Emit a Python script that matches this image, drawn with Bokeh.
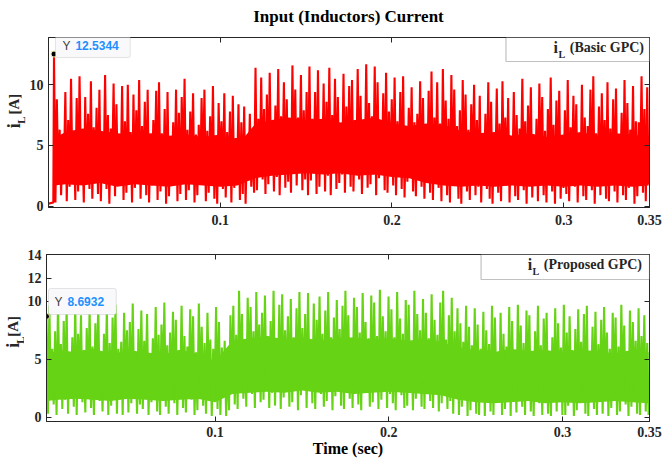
import numpy as np
from bokeh.plotting import figure
from bokeh.models import Label, Range1d, FixedTicker, LinearAxis, BoxAnnotation
from bokeh.layouts import column, row
from bokeh.embed import file_html
from bokeh.resources import INLINE

# ---------------- data ----------------
title_text = "Input (Inductors) Current"
x_label = "Time (sec)"
x_ticks = [0.1, 0.2, 0.3, 0.35]
x_tick_labels = {0.1: "0.1", 0.2: "0.2", 0.3: "0.3", 0.35: "0.35"}
top_y_ticks = [0, 5, 10]
bot_y_ticks = [0, 5, 10, 12, 14]

basic_name = "(Basic GPC)"
proposed_name = "(Proposed GPC)"

# Basic GPC inductor current: flat start, then alternating peaks / troughs
basic_start_t = [0.0, 0.0028]
basic_start_i = [0.2, 0.3]
basic_t_first, basic_t_last = 0.0032, 0.3495
basic_peaks = [
    12.53, 8.8, 6.3, 5.4, 9.4, 7.1, 10.5, 6.2, 8.9, 10.7, 5.8, 9.0, 7.6, 10.3, 6.5,
    8.1, 9.6, 5.9, 10.8, 7.5, 6.4, 10.1, 8.4, 5.6, 9.9, 7.0, 10.0, 6.1, 9.2, 7.9,
    10.4, 6.6, 8.6, 9.6, 5.7, 7.1, 9.5, 10.2, 6.0, 8.0, 9.4, 5.5, 6.9, 9.6, 7.7,
    9.0, 10.5, 6.3, 7.8, 9.3, 5.9, 6.7, 8.9, 9.6, 6.2, 7.4, 9.9, 5.8, 8.5, 7.0,
    9.3, 6.1, 7.8, 9.1, 5.6, 8.4, 6.9, 8.2, 5.3, 7.6, 5.0, 11.4, 7.2, 10.6, 8.0,
    9.2, 11.0, 6.8, 8.3, 11.3, 7.4, 10.2, 8.8, 6.6, 11.6, 9.6, 7.3, 10.8, 7.9, 9.4,
    11.5, 7.2, 9.4, 11.2, 6.9, 10.1, 8.6, 11.4, 7.5, 10.5, 9.0, 6.8, 10.9, 8.2, 9.9,
    10.4, 7.1, 11.3, 9.1, 6.7, 11.7, 8.5, 7.4, 11.5, 10.2, 6.9, 9.3, 11.0, 7.8, 8.8,
    10.6, 7.0, 9.4, 10.7, 6.5, 8.1, 9.8, 6.9, 7.6, 10.3, 8.9, 6.4, 9.5, 11.1, 7.3,
    10.2, 6.8, 11.3, 8.7, 7.2, 10.8, 9.6, 6.6, 7.9, 10.4, 9.2, 6.3, 8.4, 10.0, 7.1,
    9.1, 6.0, 7.6, 10.2, 8.6, 5.8, 9.7, 6.8, 10.3, 7.3, 8.9, 5.6, 9.4, 7.5, 6.4,
    10.5, 7.0, 8.3, 9.8, 5.9, 7.2, 10.1, 9.0, 6.2, 8.0, 10.6, 6.7, 8.7, 9.5, 5.7,
    7.9, 10.4, 6.5, 9.1, 8.4, 5.8, 10.0, 7.3, 6.6, 9.6, 10.7, 6.0, 8.2, 9.3, 7.1,
    10.2, 6.4, 8.8, 9.7, 5.9, 7.7, 10.4, 8.5, 6.3, 9.9, 7.0, 6.9, 10.7, 8.0, 9.8,
]
basic_troughs = [
    0.3, 2.1, 0.9, 3.0, 0.4, 1.6, 2.6, 0.5, 1.2, 3.2, 0.3, 2.1, 1.4, 0.6, 2.4,
    1.0, 0.4, 2.7, 1.4, 0.2, 3.1, 0.8, 1.9, 2.5, 0.5, 1.1, 2.9, 0.3, 1.5, 2.2,
    0.6, 2.8, 0.9, 0.3, 1.7, 3.0, 0.5, 1.2, 2.3, 0.2, 0.8, 2.6, 2.0, 0.4, 1.0,
    2.4, 0.5, 1.3, 3.1, 0.3, 0.9, 1.8, 2.7, 0.4, 1.1, 2.2, 0.6, 0.2, 2.9, 1.4,
    0.7, 2.5, 0.3, 1.5, 2.8, 0.5, 1.0, 0.2, 2.1, 1.6, 1.1, 1.3, 2.9, 2.2, 1.0,
    1.8, 3.0, 1.2, 2.4, 0.9, 3.4, 1.5, 2.0, 1.1, 2.7, 1.7, 3.2, 1.3, 2.2, 0.9,
    2.1, 3.3, 1.0, 1.6, 2.9, 1.2, 2.5, 0.9, 3.1, 1.4, 1.9, 2.6, 1.1, 3.0, 1.6,
    1.2, 2.8, 2.2, 1.0, 3.2, 1.5, 1.8, 2.6, 0.9, 2.3, 3.0, 1.3, 1.1, 2.7, 1.7,
    0.9, 2.4, 1.4, 0.7, 2.0, 3.0, 1.2, 0.8, 2.6, 1.6, 0.6, 2.2, 1.1, 0.5, 2.8,
    1.5, 0.4, 2.5, 0.9, 0.3, 1.8, 2.9, 0.6, 0.2, 2.2, 1.2, 0.5, 2.7, 0.9, 1.6,
    0.3, 2.4, 1.4, 0.6, 0.2, 2.9, 1.1, 0.4, 2.0, 1.7, 0.3, 2.6, 0.8, 0.5, 3.0,
    1.3, 0.2, 2.3, 0.7, 1.9, 0.4, 2.8, 0.9, 0.3, 2.5, 1.2, 0.2, 2.0, 0.6, 1.5,
    1.0, 0.4, 2.7, 1.6, 0.3, 2.2, 0.8, 0.5, 3.0, 1.3, 0.2, 1.9, 0.9, 2.6, 0.6,
    0.4, 2.3, 1.2, 0.3, 2.8, 0.9, 0.5, 1.5, 2.4, 0.2, 0.8, 2.9, 1.1, 0.4, 1.8,
]
# the solid-looking dense core of the Basic GPC trace, every 0.01 s
basic_core_t = [0.0032, 0.01, 0.02, 0.03, 0.04, 0.05, 0.06, 0.07, 0.08, 0.09,
                0.10, 0.11, 0.12, 0.13, 0.14, 0.15, 0.16, 0.17, 0.18, 0.19,
                0.20, 0.21, 0.22, 0.23, 0.24, 0.25, 0.26, 0.27, 0.28, 0.29,
                0.30, 0.31, 0.32, 0.33, 0.34, 0.3495]
basic_core_low = [1.7, 1.8, 1.7, 1.9, 1.6, 1.8, 1.7, 1.6, 1.8, 1.7,
                  1.6, 1.7, 2.3, 2.5, 2.6, 2.7, 2.6, 2.7, 2.5, 2.6,
                  2.4, 2.3, 1.9, 1.7, 1.6, 1.7, 1.6, 1.7, 1.6, 1.7,
                  1.6, 1.7, 1.6, 1.7, 1.6, 1.7]
basic_core_high = [5.6, 6.1, 6.4, 6.2, 6.0, 5.9, 6.0, 5.8, 5.9, 5.7,
                   5.9, 5.0, 6.7, 7.1, 7.3, 7.1, 7.2, 6.9, 7.1, 7.3,
                   6.8, 6.6, 6.8, 6.7, 6.2, 6.0, 6.1, 5.8, 6.0, 5.7,
                   5.9, 6.1, 5.8, 6.0, 5.9, 5.7]
basic_tip_t, basic_tip_i = 0.0032, 12.5344

# Proposed GPC inductor current: alternating peaks / troughs
proposed_t_first, proposed_t_last = 0.003, 0.3495
proposed_peaks = [
    8.69, 9.6, 5.9, 7.4, 9.9, 6.3, 8.3, 9.5, 5.6, 6.9, 9.8, 7.2, 8.8, 5.8, 7.7,
    9.4, 6.1, 8.1, 9.9, 5.5, 7.2, 9.3, 6.4, 8.6, 9.7, 5.9, 6.5, 9.0, 7.5, 8.2,
    9.8, 5.7, 7.6, 9.2, 6.6, 8.9, 5.4, 6.8, 9.5, 7.1, 8.0, 9.9, 6.2, 7.3, 9.1,
    8.4, 5.8, 9.6, 7.0, 6.1, 9.3, 8.7, 5.6, 9.8, 7.8, 6.4, 9.0, 6.7, 5.9, 9.5,
    8.2, 6.0, 6.6, 5.2, 8.8, 9.6, 7.1, 10.9, 8.9, 6.7, 10.3, 9.5, 7.4, 10.8, 8.0,
    9.0, 10.5, 7.0, 8.3, 10.9, 6.8, 9.7, 10.6, 7.5, 8.7, 10.2, 6.9, 9.4, 10.8, 7.7,
    8.9, 10.7, 6.6, 9.8, 8.4, 10.4, 7.2, 9.2, 10.8, 6.9, 8.6, 10.1, 7.6, 9.6, 10.9,
    8.8, 6.7, 10.3, 9.5, 7.3, 10.7, 8.2, 6.8, 10.5, 9.9, 7.0, 11.0, 8.7, 7.4, 10.4,
    9.3, 6.9, 10.8, 8.5, 7.2, 10.1, 9.7, 6.6, 10.9, 8.9, 7.5, 10.2, 9.0, 6.8, 10.6,
    8.4, 7.1, 9.9, 10.9, 6.7, 8.8, 10.3, 7.4, 9.4, 8.1, 6.5, 9.6, 7.8, 6.2, 9.4,
    8.0, 5.9, 9.1, 7.5, 6.3, 9.6, 8.6, 5.6, 9.0, 7.2, 6.1, 9.5, 8.3, 5.8, 9.7,
    7.9, 6.4, 9.2, 8.8, 5.5, 7.4, 9.6, 6.2, 8.5, 9.0, 5.7, 6.9, 9.4, 8.1, 6.0,
    9.7, 7.3, 8.7, 5.8, 7.6, 9.3, 6.5, 8.9, 9.6, 5.6, 7.8, 9.1, 6.3, 8.4, 9.5,
    7.3, 5.9, 9.0, 8.6, 6.1, 9.7, 7.9, 5.7, 9.2, 8.2, 6.6, 9.4, 7.0, 8.8, 6.4,
]
proposed_troughs = [
    0.3, 1.9, 1.1, 0.2, 2.6, 0.7, 1.5, 0.3, 2.3, 0.9, 0.2, 2.8, 1.3, 0.4, 2.0,
    0.8, 0.2, 2.4, 1.4, 0.5, 2.9, 0.2, 1.0, 2.1, 0.3, 1.6, 0.2, 2.6, 0.4, 1.2,
    2.2, 0.3, 1.1, 0.7, 2.7, 0.2, 1.3, 2.0, 0.5, 0.2, 2.5, 0.9, 0.3, 1.8, 1.2,
    0.2, 2.3, 0.8, 0.4, 2.8, 1.5, 0.2, 0.6, 2.1, 1.0, 0.3, 2.6, 0.1, 1.4, 0.7,
    0.2, 1.8, 0.1, 0.6, 2.4, 1.1, 0.7, 2.9, 1.6, 0.9, 3.1, 2.0, 0.8, 2.6, 1.3,
    1.5, 3.0, 0.8, 2.1, 1.0, 3.3, 0.7, 1.7, 2.8, 0.9, 1.3, 3.1, 0.6, 1.9, 2.5,
    0.8, 2.7, 1.2, 0.7, 3.0, 2.0, 0.9, 1.4, 3.2, 0.6, 1.8, 2.4, 1.0, 0.7, 2.9,
    1.6, 0.8, 2.6, 1.1, 0.6, 3.1, 2.2, 0.9, 1.3, 2.8, 0.7, 1.5, 3.0, 0.8, 2.0,
    1.2, 0.6, 2.9, 1.9, 0.8, 1.0, 3.1, 0.6, 1.6, 2.4, 0.9, 0.7, 2.7, 1.4, 0.8,
    2.3, 0.5, 1.2, 2.8, 0.7, 1.4, 0.3, 2.2, 0.2, 0.9, 2.6, 0.1, 0.6, 2.1, 0.3,
    0.2, 1.8, 0.1, 2.5, 0.5, 0.2, 2.9, 1.3, 0.2, 0.7, 2.3, 0.1, 1.6, 0.4, 2.7,
    0.9, 0.2, 2.4, 0.5, 0.1, 2.0, 1.2, 0.2, 2.8, 0.3, 0.1, 1.7, 0.5, 2.5, 0.2,
    0.2, 1.0, 2.6, 0.1, 0.6, 2.2, 1.4, 0.3, 0.1, 2.9, 0.7, 0.2, 1.9, 0.3, 2.4,
    0.1, 0.8, 2.3, 0.2, 0.5, 2.7, 1.1, 0.1, 0.9, 2.2, 0.3, 0.2, 2.6, 0.5, 0.2,
]
proposed_core_t = [0.003, 0.01, 0.02, 0.03, 0.04, 0.05, 0.06, 0.07, 0.08, 0.09,
                   0.10, 0.11, 0.12, 0.13, 0.14, 0.15, 0.16, 0.17, 0.18, 0.19,
                   0.20, 0.21, 0.22, 0.23, 0.24, 0.25, 0.26, 0.27, 0.28, 0.29,
                   0.30, 0.31, 0.32, 0.33, 0.34, 0.3495]
proposed_core_low = [1.4, 1.5, 1.6, 1.5, 1.4, 1.6, 1.5, 1.4, 1.5, 1.6,
                     1.3, 2.0, 2.1, 2.2, 2.1, 2.3, 2.1, 2.2, 2.0, 2.1,
                     2.2, 2.1, 2.0, 1.9, 1.5, 1.3, 1.2, 1.3, 1.4, 1.2,
                     1.3, 1.2, 1.3, 1.4, 1.3, 1.2]
proposed_core_high = [5.4, 5.8, 5.6, 5.9, 5.5, 5.7, 5.6, 5.4, 5.8, 5.5,
                      4.8, 6.6, 6.8, 7.0, 6.7, 6.9, 6.6, 6.8, 6.9, 6.7,
                      6.8, 6.6, 6.7, 6.5, 6.0, 5.8, 5.6, 5.9, 5.7, 5.8,
                      5.6, 5.8, 5.7, 5.5, 5.8, 5.6]
proposed_tip_t, proposed_tip_i = 0.003, 8.6932

# ---------------- styling ----------------
RED = "#FF0000"
GREEN = "#66D314"
INK = "#262626"
SERIF = "Liberation Serif"
SANS = "Liberation Sans"


def interleave(peaks, troughs):
    v = np.empty(len(peaks) + len(troughs))
    v[0::2] = peaks
    v[1::2] = troughs
    return v


basic_i = np.concatenate([basic_start_i, interleave(basic_peaks, basic_troughs)])
basic_t = np.concatenate([basic_start_t,
                          np.linspace(basic_t_first, basic_t_last, 2 * len(basic_peaks))])
prop_i = interleave(proposed_peaks, proposed_troughs)
prop_t = np.linspace(proposed_t_first, proposed_t_last, 2 * len(proposed_peaks))

W = 662
TH = 26          # title strip height
H1 = 230 - TH    # top panel height
H2 = 230         # bottom panel height
LINE_W = 2.1


def make_fig(width, height, left, right, top, bottom, xr, yr, yticks, xstand):
    p = figure(width=width, height=height, output_backend="svg", toolbar_location=None,
               x_range=Range1d(*xr), y_range=Range1d(*yr),
               min_border_left=left, min_border_right=right,
               min_border_top=top, min_border_bottom=bottom,
               x_axis_type=None, y_axis_type=None)
    p.background_fill_color = "white"
    p.border_fill_color = "white"
    p.outline_line_color = INK
    p.outline_line_width = 1
    p.xgrid.visible = False
    p.ygrid.visible = False
    for loc, ticks, shown in (("below", x_ticks, True), ("left", yticks, True),
                              ("above", x_ticks, False), ("right", yticks, False)):
        ax = LinearAxis(ticker=FixedTicker(ticks=ticks))
        ax.major_tick_in = 5
        ax.major_tick_out = 0
        ax.minor_tick_line_color = None
        ax.major_tick_line_color = INK
        ax.axis_line_color = INK
        if shown:
            ax.major_label_text_font = SERIF
            ax.major_label_text_font_style = "bold"
            ax.major_label_text_font_size = "14px"
            ax.major_label_text_color = INK
            ax.major_label_standoff = xstand if loc == "below" else 5
            if loc == "below":
                ax.major_label_overrides = x_tick_labels
        else:
            ax.major_label_overrides = {t: "" for t in ticks}
            ax.major_label_text_font_size = "1px"
            ax.major_label_standoff = 0
        p.add_layout(ax, loc)
    return p


def blank_fig(width, height):
    q = figure(width=width, height=height, output_backend="svg", toolbar_location=None,
               x_range=Range1d(0, width), y_range=Range1d(height, 0),
               min_border_left=0, min_border_right=0, min_border_top=0,
               min_border_bottom=0, x_axis_type=None, y_axis_type=None)
    q.outline_line_color = None
    q.xgrid.visible = False
    q.ygrid.visible = False
    q.background_fill_color = "white"
    q.border_fill_color = "white"
    return q


def px2data(g, x, y):
    dx = g["xr"][0] + (x - g["l"]) / (g["r"] - g["l"]) * (g["xr"][1] - g["xr"][0])
    dy = g["yr"][1] - (y - g["t"]) / (g["b"] - g["t"]) * (g["yr"][1] - g["yr"][0])
    return dx, dy


def text(p, g, x, y, s, size, color=INK, font=SERIF, style="bold", align="center", angle=0.0):
    dx, dy = (x, y) if g is None else px2data(g, x, y)
    p.add_layout(Label(x=dx, y=dy, text=s, text_font=font, text_font_style=style,
                       text_font_size=size, text_color=color, text_align=align,
                       text_baseline="middle", angle=angle))


def box(p, g, x0, y0, x1, y1, fill, line, lw=1.0, radius=0):
    a, b = px2data(g, x0, y0)
    c, d = px2data(g, x1, y1)
    p.add_layout(BoxAnnotation(left=a, right=c, top=b, bottom=d, fill_color=fill,
                               fill_alpha=1.0, line_color=line, line_width=lw,
                               border_radius=radius))


def legend(p, g, bx0, by0, bx1, by1, lx0, lx1, ly, name, color, ix):
    box(p, g, bx0, by0, bx1, by1, "white", "#333333", 1.2)
    a, yy = px2data(g, lx0, ly)
    c, _ = px2data(g, lx1, ly)
    p.line([a, c], [yy, yy], line_color=color, line_width=1.5)
    text(p, g, ix, ly - 1, "i", "16px")
    text(p, g, ix + 6, ly + 6, "L", "10px")
    text(p, g, ix + 14, ly - 1, name, "14px", align="left")


# ---------------- title strip ----------------
tfig = blank_fig(W, TH)
text(tfig, None, 348, 16, title_text, "17px", color="black")

# ---------------- top panel (page px: frame x 46..649, y 37..207) ----------------
LW1 = 26
G1 = dict(l=46 - LW1, r=649 - LW1, t=37 - TH, b=207 - TH, xr=(0.0, 0.35), yr=(-0.12, 13.9))
p1 = make_fig(W - LW1, H1, G1["l"], W - 649, G1["t"], H1 - G1["b"],
              G1["xr"], G1["yr"], top_y_ticks, 7)
p1.varea(x=basic_core_t, y1=basic_core_low, y2=basic_core_high, fill_color=RED)
p1.line(basic_t, basic_i, line_color=RED, line_width=LINE_W)
p1.scatter([basic_tip_t], [basic_tip_i], size=6, fill_color="black", line_color="#F3E9A0")
legend(p1, G1, 505 - LW1, 37 - TH, 649 - LW1, 61 - TH, 510 - LW1, 548 - LW1, 48 - TH,
       basic_name, RED, 555 - LW1)
box(p1, G1, 53 - LW1, 31 - TH, 128 - LW1, 57 - TH, "#F9F9FB", "#A8A8A8", 1.0, 2)
text(p1, G1, 60 - LW1, 45 - TH, "Y", "12px", color="#404040", font=SANS, style="normal", align="left")
text(p1, G1, 73 - LW1, 45 - TH, "12.5344", "12px", color="#1E90FF", font=SANS, align="left")

q1 = blank_fig(LW1, H1)
text(q1, None, 13, 132 - TH, "i", "18px", angle=np.pi / 2)
text(q1, None, 20, 125 - TH, "L", "11px", angle=np.pi / 2)
text(q1, None, 13, 106 - TH, "[A]", "15px", angle=np.pi / 2)

# ---------------- bottom panel (page px: frame x 44..649, y 254..421) ----------------
LW2 = 24
G2 = dict(l=44 - LW2, r=649 - LW2, t=24, b=191, xr=(0.003, 0.35), yr=(-0.37, 14.03))
p2 = make_fig(W - LW2, H2, G2["l"], W - 649, G2["t"], H2 - G2["b"],
              G2["xr"], G2["yr"], bot_y_ticks, 5)
xa = p2.below[0]
xa.axis_label = x_label
xa.axis_label_text_font = SERIF
xa.axis_label_text_font_style = "bold"
xa.axis_label_text_font_size = "16px"
xa.axis_label_text_color = "black"
xa.axis_label_standoff = 0

p2.varea(x=proposed_core_t, y1=proposed_core_low, y2=proposed_core_high, fill_color=GREEN)
p2.line(prop_t, prop_i, line_color=GREEN, line_width=LINE_W)
p2.scatter([proposed_tip_t], [proposed_tip_i], size=6, fill_color="black", line_color="#F3E9A0")
legend(p2, G2, 480 - LW2, 24, 649 - LW2, 49, 484 - LW2, 520 - LW2, 35,
       proposed_name, GREEN, 529 - LW2)
box(p2, G2, 46 - LW2, 58, 114 - LW2, 84, "#F9F9FB", "#A8A8A8", 1.0, 2)
text(p2, G2, 52 - LW2, 71, "Y", "12px", color="#404040", font=SANS, style="normal", align="left")
text(p2, G2, 65 - LW2, 71, "8.6932", "12px", color="#1E90FF", font=SANS, align="left")

q2 = blank_fig(LW2, H2)
text(q2, None, 12, 125, "i", "18px", angle=np.pi / 2)
text(q2, None, 19, 118, "L", "11px", angle=np.pi / 2)
text(q2, None, 12, 99, "[A]", "15px", angle=np.pi / 2)

layout = column(tfig, row(q1, p1, spacing=0), row(q2, p2, spacing=0), spacing=0)
open("out.html", "w").write(file_html(layout, INLINE))
